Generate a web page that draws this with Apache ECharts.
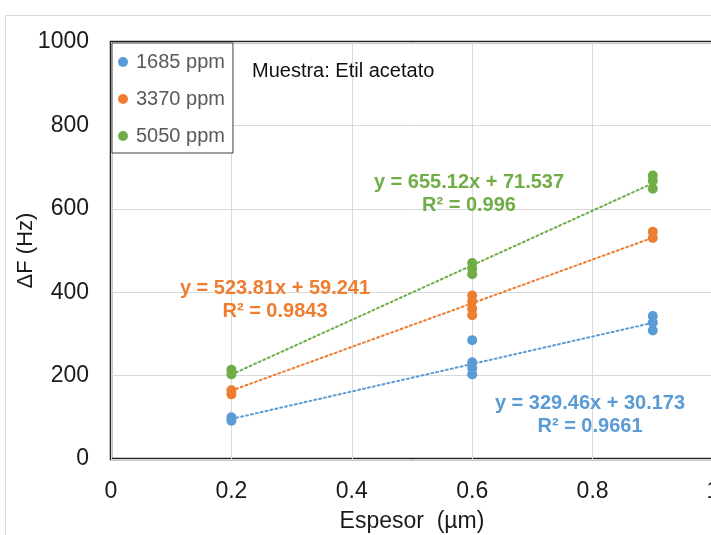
<!DOCTYPE html>
<html>
<head>
<meta charset="utf-8">
<script src="https://cdn.jsdelivr.net/npm/echarts@6/dist/echarts.min.js"></script>
<style>
  html, body { margin: 0; padding: 0; background: #ffffff; }
  #chart { width: 711px; height: 535px; }
</style>
</head>
<body>
<div id="chart"></div>
<script>
// Series names (gas concentration)
const seriesNames = ['1685 ppm', '3370 ppm', '5050 ppm'];
const seriesColors = ['#5B9BD5', '#ED7D31', '#70AD47'];
const labelColors = ['#5B9BD5', '#ED7D31', '#70AD47'];

// Film thickness (µm) and frequency shift (Hz) for each concentration
const thick1685 = [0.2, 0.2, 0.6, 0.6, 0.6, 0.6, 0.9, 0.9, 0.9];
const df1685    = [92, 100, 285, 232, 218, 203, 343, 327, 308];

const thick3370 = [0.2, 0.2, 0.6, 0.6, 0.6, 0.6, 0.9, 0.9];
const df3370    = [155, 165, 392, 378, 360, 345, 545, 530];

const thick5050 = [0.2, 0.2, 0.6, 0.6, 0.6, 0.9, 0.9, 0.9];
const df5050    = [214, 203, 470, 456, 443, 680, 667, 648];

// Linear fits: y = slope * x + intercept
const slopes     = [329.46, 523.81, 655.12];
const intercepts = [30.173, 59.241, 71.537];
const rSquared   = [0.9661, 0.9843, 0.996];
const fitRange   = [0.2, 0.9];

// Axis ticks
const xTicks = [0, 0.2, 0.4, 0.6, 0.8, 1];
const yTicks = [0, 200, 400, 600, 800, 1000];

const thicknessSets = [thick1685, thick3370, thick5050];
const shiftSets = [df1685, df3370, df5050];

const scatterSeries = seriesNames.map((name, i) => ({
  name: name,
  type: 'scatter',
  symbol: 'circle',
  symbolSize: 10,
  itemStyle: { color: seriesColors[i], opacity: 1 },
  data: thicknessSets[i].map((x, k) => [x, shiftSets[i][k]]),
  z: 3
}));

const trendSeries = seriesNames.map((name, i) => ({
  name: name + ' fit',
  type: 'line',
  symbol: 'none',
  silent: true,
  lineStyle: { color: seriesColors[i], width: 2, type: [2, 3], cap: 'round' },
  data: fitRange.map(x => [x, slopes[i] * x + intercepts[i]]),
  z: 2
}));

// Equation label placement (center x, first line center y)
const eqPos = [[590, 403], [275, 288], [469, 182]];
const eqText = seriesNames.map((n, i) => ({
  type: 'text',
  x: eqPos[i][0],
  y: eqPos[i][1] - 11,
  style: {
    text: 'y = ' + slopes[i] + 'x + ' + intercepts[i] + '\nR² = ' + rSquared[i],
    fill: labelColors[i],
    font: 'bold 20px "Liberation Sans", Arial, sans-serif',
    align: 'center',
    textAlign: 'center',
    verticalAlign: 'top',
    textVerticalAlign: 'top',
    lineHeight: 23
  },
  z: 10
}));

const chart = echarts.init(document.getElementById('chart'), null, { renderer: 'canvas' });

chart.setOption({
  backgroundColor: '#ffffff',
  animation: false,
  textStyle: { fontFamily: '"Liberation Sans", Arial, sans-serif' },
  grid: {
    left: 111, top: 42, width: 602, bottom: 76,
    containLabel: false,
    outerBoundsMode: 'none',
    show: true,
    borderColor: '#1f1f1f',
    borderWidth: 2.5,
    backgroundColor: 'transparent'
  },
  legend: {
    data: seriesNames,
    orient: 'vertical',
    left: 112,
    top: 43,
    icon: 'circle',
    itemWidth: 10,
    itemHeight: 10,
    itemGap: 17,
    padding: [9, 8, 7, 6],
    backgroundColor: '#ffffff',
    borderColor: '#404040',
    borderWidth: 1,
    textStyle: {
      fontSize: 20,
      lineHeight: 20,
      color: '#595959',
      padding: [0, 0, 0, 3],
      fontFamily: '"Liberation Sans", Arial, sans-serif'
    },
    z: 20
  },
  xAxis: {
    type: 'value',
    min: 0,
    max: 1,
    interval: 0.2,
    name: 'Espesor  (µm)',
    nameLocation: 'middle',
    nameGap: 51,
    nameMoveOverlap: false,
    nameTextStyle: { fontSize: 23, color: '#1a1a1a' },
    axisLine: { show: false },
    axisTick: { show: false },
    axisLabel: {
      fontSize: 23,
      color: '#1a1a1a',
      margin: 21,
      formatter: v => String(xTicks.find(t => Math.abs(t - v) < 1e-6) ?? v)
    },
    splitLine: { show: true, lineStyle: { color: '#d9d9d9', width: 1 } }
  },
  yAxis: {
    type: 'value',
    min: 0,
    max: 1000,
    interval: 200,
    name: 'ΔF (Hz)',
    nameLocation: 'middle',
    nameGap: 74,
    nameRotate: 90,
    nameMoveOverlap: false,
    nameTextStyle: { fontSize: 22, color: '#1a1a1a' },
    axisLine: { show: false },
    axisTick: { show: false },
    axisLabel: {
      fontSize: 23,
      color: '#1a1a1a',
      margin: 22,
      formatter: v => String(yTicks.find(t => t === v) ?? v)
    },
    splitLine: { show: true, lineStyle: { color: '#d9d9d9', width: 1 } }
  },
  graphic: [
    {
      type: 'rect',
      shape: { x: 5.5, y: 15.5, width: 800, height: 600 },
      style: { fill: 'none', stroke: '#d9d9d9', lineWidth: 1 },
      z: -10,
      silent: true
    },
    {
      type: 'text',
      x: 252,
      y: 71,
      style: {
        text: 'Muestra: Etil acetato',
        fill: '#111111',
        font: '20px "Liberation Sans", Arial, sans-serif',
        verticalAlign: 'middle',
        textVerticalAlign: 'middle'
      },
      z: 10
    }
  ].concat(eqText),
  series: trendSeries.concat(scatterSeries)
});
</script>
</body>
</html>
